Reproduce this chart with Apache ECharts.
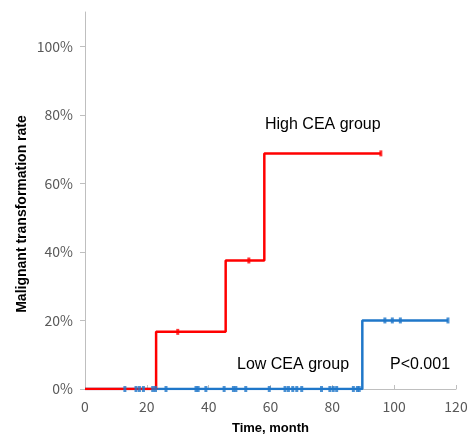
<!DOCTYPE html>
<html><head><meta charset="utf-8">
<script src="https://cdn.jsdelivr.net/npm/echarts@6/dist/echarts.min.js"></script>
<style>html,body{margin:0;padding:0;background:#fff}#c{width:472px;height:444px}</style>
</head><body><div id="c"></div>
<script>
// High CEA group Kaplan-Meier steps
var highTimes = [0, 23, 45.5, 58, 95.7];
var highRates = [0, 0.1667, 0.375, 0.6875, 0.6875];
var highCensorTimes = [30, 53, 95.7];
var highCensorRates = [0.1667, 0.375, 0.6875];
// Low CEA group
var lowTimes = [0, 89.7, 117.4];
var lowRates = [0, 0.2, 0.2];
var lowCensorTimes = [12.9, 16.5, 17.6, 18.9, 21.9, 22.8, 26.2, 35.9, 36.6, 39.1, 45.0, 48.0, 48.8, 52.0, 59.6,
  64.7, 65.8, 67.2, 68.5, 70.1, 76.5, 79.2, 80.3, 81.4, 86.8, 88.1, 88.7, 97.0, 99.4, 102.0, 117.4];
var lowCensorRates = lowCensorTimes.map(function(t){ return t >= 89.7 ? 0.2 : 0; });
var xTicks = [0, 20, 40, 60, 80, 100, 120];
var yTicks = [0, 0.2, 0.4, 0.6, 0.8, 1.0];

function zip(a, b){ return a.map(function(v,i){ return [v, b[i]]; }); }

var chart = echarts.init(document.getElementById('c'), null, {renderer:'canvas'});
chart.setOption({
  animation: false,
  grid: {left: 85, right: 16, top: 12, bottom: 55},
  xAxis: {
    type: 'value', min: xTicks[0], max: xTicks[xTicks.length-1], interval: 20,
    name: 'Time, month', nameLocation: 'middle', nameGap: 33,
    nameTextStyle: {fontFamily: 'Liberation Sans', fontWeight: 'bold', fontSize: 13, color: '#000'},
    axisLine: {lineStyle: {color: '#bfbfbf'}},
    axisTick: {inside: true, length: 4, lineStyle: {color: '#bfbfbf'}},
    axisLabel: {color: '#595959', fontSize: 14, fontFamily: 'Noto Sans CJK SC', margin: 11},
    splitLine: {show: false}
  },
  yAxis: {
    type: 'value', min: 0, max: 1.1, interval: 0.2,
    axisLine: {show: true, lineStyle: {color: '#bfbfbf'}},
    axisTick: {show: true, length: 5, lineStyle: {color: '#bfbfbf'}},
    axisLabel: {color: '#595959', fontSize: 14, fontFamily: 'Noto Sans CJK SC', margin: 12, showMaxLabel: false,
      formatter: function(v){ return v > yTicks[yTicks.length-1] + 0.001 ? '' : Math.round(v*100) + '%'; }},
    splitLine: {show: false}
  },
  graphic: [
    {type: 'text', x: 22, y: 214, rotation: Math.PI/2,
      style: {text: 'Malignant transformation rate', font: 'bold 14px "Liberation Sans"', fill: '#000',
        align: 'center', verticalAlign: 'middle'}},
    {type: 'text', left: 265, top: 117, style: {text: 'High CEA group', font: '16px "Liberation Sans"', fill: '#000'}},
    {type: 'text', left: 237, top: 357, style: {text: 'Low CEA group', font: '16px "Liberation Sans"', fill: '#000'}},
    {type: 'text', left: 390, top: 357, style: {text: 'P<0.001', font: '16px "Liberation Sans"', fill: '#000'}}
  ],
  series: [
    {type: 'line', step: 'end', data: zip(highTimes, highRates), showSymbol: false, symbol: 'none',
      lineStyle: {color: '#ff0000', width: 2.5}, z: 3},
    {type: 'line', step: 'end', data: zip(lowTimes, lowRates), showSymbol: false, symbol: 'none',
      lineStyle: {color: '#1f77c9', width: 2.5}, z: 2},
    {type: 'scatter', data: zip(highCensorTimes, highCensorRates), symbol: 'rect', symbolSize: [3, 6],
      itemStyle: {color: '#ff0000'}, z: 4},
    {type: 'scatter', data: zip(lowCensorTimes, lowCensorRates), symbol: 'rect', symbolSize: [3, 6],
      itemStyle: {color: '#1f77c9'}, z: 4}
  ]
});
</script></body></html>
